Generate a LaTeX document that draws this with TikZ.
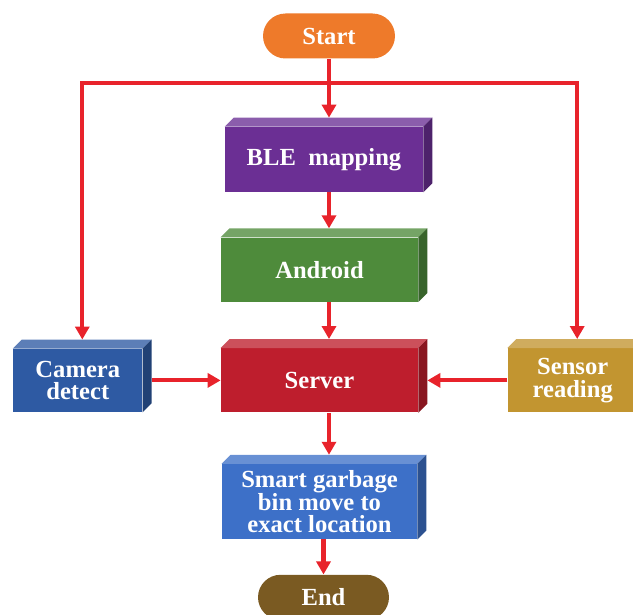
\documentclass[tikz,border=0pt]{standalone}
\usepackage{fontspec}
\setmainfont{Liberation Serif}
\usetikzlibrary{positioning,calc,arrows.meta}
\usepackage{xcolor}
\definecolor{startorange}{RGB}{238,122,42}
\definecolor{blepurple}{RGB}{107,47,148}
\definecolor{androidgreen}{RGB}{78,139,59}
\definecolor{serverred}{RGB}{190,30,45}
\definecolor{camblue}{RGB}{46,90,163}
\definecolor{sensorgold}{RGB}{194,149,48}
\definecolor{binblue}{RGB}{61,112,200}
\definecolor{endbrown}{RGB}{122,90,34}
\definecolor{flowred}{RGB}{232,35,43}
\newcommand{\bxd}{0.18}

\begin{document}
\begin{tikzpicture}[
    terminal/.style={rectangle, rounded corners=0.45cm, fill=#1, minimum width=2.64cm,
                     minimum height=0.9cm, text=white,
                     font=\bfseries\fontsize{14}{13}\selectfont},
    block/.style={rectangle, fill=#1, text=white, align=center, inner sep=2pt,
                  font=\bfseries\fontsize{14}{13}\selectfont},
    arrow/.style={->, >={Triangle[length=0.26cm,width=0.28cm]}, line width=2.3pt, draw=flowred}
]
\useasboundingbox (0,0) rectangle (12.66,-12.30);

\node[terminal=startorange] (start) at (6.58,-0.72) {Start};

\node[block=blepurple, minimum width=3.96cm, minimum height=1.30cm] (ble) at (6.48,-3.19) {BLE\ \ mapping};
\node[block=androidgreen, minimum width=3.94cm, minimum height=1.28cm, below=0.90cm of ble, xshift=-0.09cm] (android) {Android};
\node[block=serverred, minimum width=3.94cm, minimum height=1.28cm, below=0.92cm of android] (server) {Server};
\node[block=binblue, minimum width=3.90cm, minimum height=1.50cm, below=1.02cm of server] (smart) {Smart garbage\\bin move to\\exact location};
\node[terminal=endbrown, minimum width=2.62cm, below=0.70cm of smart, xshift=0.08cm] (end) {End};

\node[block=camblue, minimum width=2.58cm, minimum height=1.26cm, left=1.56cm of server] (camera) {Camera\\detect};
\node[block=sensorgold, minimum width=2.60cm, minimum height=1.28cm, right=1.78cm of server] (sensor) {Sensor\\reading};

% top and side faces of the boxes
\foreach \n/\c in {ble/blepurple, android/androidgreen, server/serverred,
                   camera/camblue, sensor/sensorgold, smart/binblue} {
    \fill[\c!78!white] (\n.north west) -- ++(\bxd,\bxd) -- ($(\n.north east)+(\bxd,\bxd)$) -- (\n.north east) -- cycle;
    \fill[\c!72!black] (\n.north east) -- ++(\bxd,\bxd) -- ($(\n.south east)+(\bxd,\bxd)$) -- (\n.south east) -- cycle;
    \coordinate (\n-top) at ($(\n.north)+(\bxd/2,\bxd)$);
}

\coordinate (split) at ($(start.south)+(0,-0.48)$);

\draw[arrow] (start) -- (start |- ble-top);
\draw[arrow] (split) -| (camera-top);
\draw[arrow] (split) -| (sensor-top);
\draw[arrow] (ble.south -| start) -- (start |- android-top);
\draw[arrow] (android.south -| start) -- (start |- server-top);
\draw[arrow] (server.south -| start) -- (start |- smart-top);
\draw[arrow] (smart.south -| end) -- (end);

\draw[arrow] ($(camera.east)+(\bxd,0)$) -- (server.west);
\draw[arrow] (sensor.west) -- ($(server.east)+(\bxd,0)$);

\end{tikzpicture}
\end{document}
